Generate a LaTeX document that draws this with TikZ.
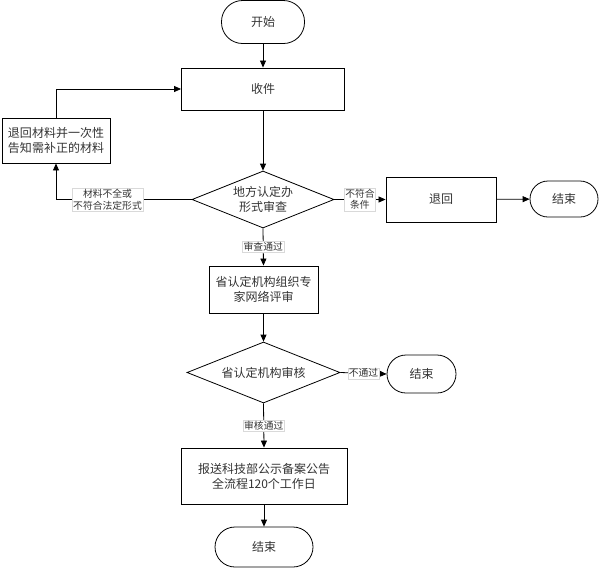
\documentclass[tikz,border=0pt]{standalone}
\usepackage{fontspec}
\newfontfamily\cjk{Noto Sans CJK SC}
\usetikzlibrary{shapes.geometric,arrows.meta}
\begin{document}
\begin{tikzpicture}[x=1pt,y=-1pt,
  font=\cjk\fontsize{12}{15}\selectfont,
  every node/.style={align=center,inner sep=0pt,text=black!80},
  procbox/.style={draw,line width=0.9pt,minimum width=#1},
  termbox/.style={draw,line width=0.8pt,rounded corners=18pt},
  decbox/.style={draw,line width=0.8pt,shape=diamond,aspect=2.5},
  lbl/.style={fill=white,draw=black!15,line width=0.4pt,inner sep=1pt,font=\cjk\fontsize{9.8}{11.5}\selectfont},
  conn/.style={line width=0.8pt,-{Triangle[length=7pt,width=6pt]}}]
\useasboundingbox (0,0) rectangle (602,574);
\node[termbox,minimum width=83pt,minimum height=43pt,rounded corners=21pt] (start) at (263,22) {开始};
\node[procbox=163pt,minimum height=42pt] (sj) at (263,89) {收件};
\node[procbox=108pt,minimum height=45pt] (ret) at (56,140.5) {退回材料并一次性\\告知需补正的材料};
\node[decbox,minimum width=142pt,minimum height=57pt] (d1) at (263,199.5) {地方认定办\\形式审查};
\node[procbox=110pt,minimum height=45pt] (back) at (441,199.5) {退回};
\node[termbox,minimum width=68pt,minimum height=36pt] (end1) at (564,199) {结束};
\node[procbox=109pt,minimum height=47pt] (p1) at (263.5,289.5) {省认定机构组织专\\家网络评审};
\node[decbox,minimum width=153pt,minimum height=61pt] (d2) at (263.5,372.5) {省认定机构审核};
\node[termbox,minimum width=69pt,minimum height=38pt,rounded corners=19pt] (end2) at (421.5,374) {结束};
\node[procbox=166pt,minimum height=56pt] (p2) at (264,476) {报送科技部公示备案公告\\全流程120个工作日};
\node[termbox,minimum width=98pt,minimum height=40pt,rounded corners=20pt] (end3) at (264,547) {结束};
\draw[conn] (start) -- (sj);
\draw[conn] (sj) -- (d1);
\draw[conn] (d1.west) -| node[lbl,pos=0.31]{材料不全或\\不符合法定形式} (ret.south);
\draw[conn] (ret.north) |- (sj.west);
\draw[conn] (d1.east) -- node[lbl]{不符合\\条件} (back.west);
\draw[conn] (back) -- (end1);
\draw[conn] (d1.south) -- node[lbl]{审查通过} (p1.north);
\draw[conn] (p1) -- (d2);
\draw[conn] (d2.east) -- node[lbl]{不通过} (end2.west);
\draw[conn] (d2.south) -- node[lbl]{审核通过} (p2.north);
\draw[conn] (p2) -- (end3);
\end{tikzpicture}
\end{document}
